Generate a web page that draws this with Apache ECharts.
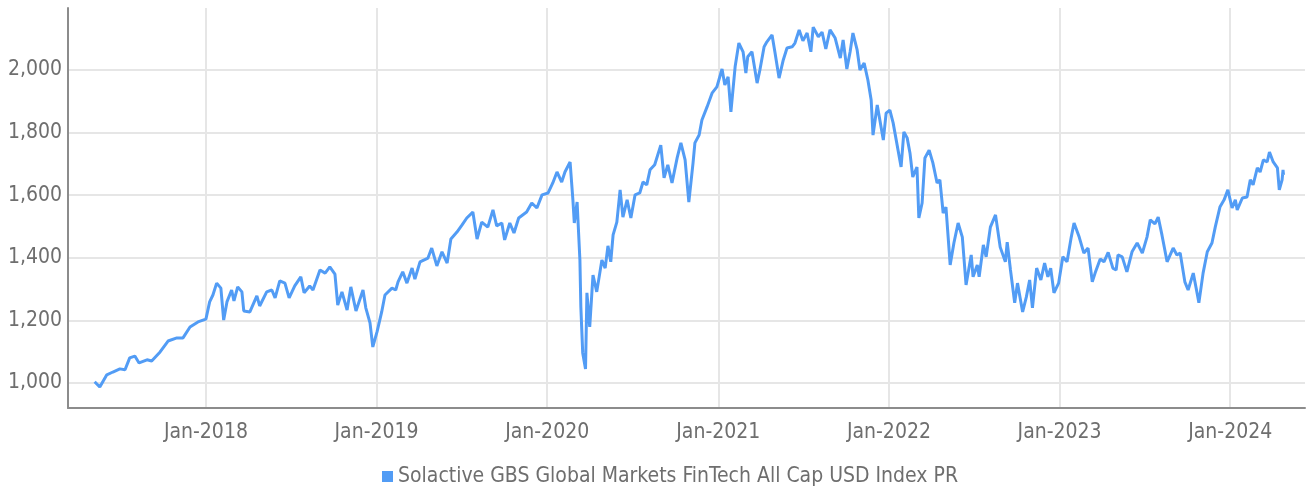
<!DOCTYPE html>
<html>
<head>
<meta charset="utf-8">
<script src="https://cdn.jsdelivr.net/npm/echarts@6/dist/echarts.min.js"></script>
<style>
html,body{margin:0;padding:0;background:#fff;}
#chart{width:1306px;height:490px;}
</style>
</head>
<body>
<div id="chart"></div>
<script>
const seriesName = 'Solactive GBS Global Markets FinTech All Cap USD Index PR';
const xTicks = ['2018-01-01','2019-01-01','2020-01-01','2021-01-01','2022-01-01','2023-01-01','2024-01-01'];
const monthNames = ['Jan','Feb','Mar','Apr','May','Jun','Jul','Aug','Sep','Oct','Nov','Dec'];
const dates = [
'2017-05-08','2017-05-19','2017-06-03','2017-06-16','2017-07-01','2017-07-12','2017-07-22','2017-08-02','2017-08-11','2017-08-28',
'2017-09-07','2017-09-25','2017-10-12','2017-10-31','2017-11-13','2017-11-28','2017-12-15',
'2018-01-01','2018-01-09','2018-01-16','2018-01-24','2018-02-02','2018-02-08','2018-02-15','2018-02-25','2018-03-02','2018-03-10',
'2018-03-19','2018-03-23','2018-04-05','2018-04-20','2018-04-26','2018-05-11','2018-05-22','2018-05-29','2018-06-08','2018-06-19',
'2018-06-28','2018-07-10','2018-07-23','2018-07-30','2018-08-11','2018-08-18','2018-09-02','2018-09-13','2018-09-23','2018-10-04',
'2018-10-10','2018-10-19','2018-10-30','2018-11-07','2018-11-18','2018-12-03','2018-12-09','2018-12-18','2018-12-24',
'2019-01-02','2019-01-12','2019-01-19','2019-02-03','2019-02-11','2019-02-16','2019-02-26','2019-03-07','2019-03-18','2019-03-24',
'2019-04-04','2019-04-21','2019-04-29','2019-05-10','2019-05-21','2019-06-01','2019-06-09','2019-06-22','2019-07-03','2019-07-13',
'2019-07-26','2019-08-04','2019-08-14','2019-08-27','2019-09-07','2019-09-15','2019-09-26','2019-10-02','2019-10-13','2019-10-22',
'2019-11-01','2019-11-18','2019-11-29','2019-12-10','2019-12-21',
'2020-01-03','2020-01-13','2020-01-22','2020-02-01','2020-02-08','2020-02-19','2020-02-25','2020-02-28','2020-03-05','2020-03-11',
'2020-03-13','2020-03-17','2020-03-23','2020-03-26','2020-04-01','2020-04-08','2020-04-16','2020-04-27','2020-05-04','2020-05-10',
'2020-05-16','2020-05-21','2020-05-29','2020-06-05','2020-06-11','2020-06-20','2020-06-28','2020-07-07','2020-07-17','2020-07-24',
'2020-08-01','2020-08-08','2020-08-18','2020-08-31','2020-09-07','2020-09-15','2020-09-24','2020-10-05','2020-10-13','2020-10-22',
'2020-10-30','2020-11-08','2020-11-12','2020-11-21','2020-11-27','2020-12-08','2020-12-19','2020-12-29',
'2021-01-09','2021-01-15','2021-01-22','2021-01-28','2021-02-06','2021-02-14','2021-02-23','2021-03-01','2021-03-05','2021-03-14',
'2021-03-25','2021-03-31','2021-04-09','2021-04-15','2021-04-26','2021-05-02','2021-05-11','2021-05-20','2021-05-28','2021-06-08',
'2021-06-14','2021-06-23','2021-07-01','2021-07-10','2021-07-18','2021-07-23','2021-08-03','2021-08-11','2021-08-19','2021-08-28',
'2021-09-08','2021-09-19','2021-09-25','2021-10-03','2021-10-10','2021-10-16','2021-10-25','2021-10-31','2021-11-09','2021-11-17',
'2021-11-24','2021-11-28','2021-12-07','2021-12-20','2021-12-26',
'2022-01-03','2022-01-10','2022-01-27','2022-02-02','2022-02-09','2022-02-15','2022-02-21','2022-03-02','2022-03-06','2022-03-13',
'2022-03-19','2022-03-28','2022-04-05','2022-04-14','2022-04-20','2022-04-27','2022-05-03','2022-05-12','2022-05-20','2022-05-29',
'2022-06-07','2022-06-15','2022-06-26','2022-06-30','2022-07-09','2022-07-13','2022-07-22','2022-07-28','2022-08-06','2022-08-17',
'2022-08-27','2022-09-07','2022-09-11','2022-09-18','2022-09-27','2022-10-03','2022-10-14','2022-10-22','2022-10-29','2022-11-04',
'2022-11-13','2022-11-22','2022-11-30','2022-12-07','2022-12-13','2022-12-20','2022-12-30',
'2023-01-08','2023-01-17','2023-01-26','2023-02-01','2023-02-12','2023-02-22','2023-03-03','2023-03-12','2023-03-18','2023-03-29',
'2023-04-06','2023-04-15','2023-04-25','2023-05-02','2023-05-06','2023-05-15','2023-05-25','2023-06-05','2023-06-16','2023-06-27',
'2023-07-07','2023-07-14','2023-07-24','2023-07-31','2023-08-08','2023-08-19','2023-09-01','2023-09-09','2023-09-16','2023-09-26',
'2023-10-03','2023-10-14','2023-10-20','2023-10-26','2023-11-04','2023-11-13','2023-11-23','2023-11-30','2023-12-10','2023-12-19',
'2023-12-27',
'2024-01-05','2024-01-12','2024-01-16','2024-01-27','2024-02-06','2024-02-13','2024-02-19','2024-02-28','2024-03-05','2024-03-12',
'2024-03-20','2024-03-25','2024-04-02','2024-04-11','2024-04-15','2024-04-21','2024-04-23','2024-04-24'
];
const values = [
1004,987,1026,1035,1045,1042,1080,1086,1064,1074,
1070,1099,1134,1144,1144,1179,1195,
1204,1259,1281,1319,1303,1201,1259,1297,1262,1307,
1291,1230,1227,1278,1246,1291,1297,1272,1326,1319,
1272,1310,1339,1288,1310,1297,1361,1351,1371,1348,
1249,1291,1233,1307,1230,1297,1240,1192,1115,
1163,1227,1281,1303,1297,1323,1355,1319,1367,1332,
1387,1399,1431,1374,1419,1383,1460,1482,1505,1527,
1546,1460,1514,1498,1553,1502,1511,1457,1511,1479,
1527,1546,1575,1559,1601,
1607,1639,1674,1642,1674,1706,1585,1511,1578,1393,
1243,1096,1045,1288,1179,1345,1291,1393,1367,1438,
1387,1473,1514,1617,1530,1585,1527,1601,1607,1642,
1633,1681,1697,1760,1655,1697,1639,1719,1767,1713,
1578,1703,1767,1792,1840,1882,1927,1946,
2003,1952,1978,1866,2010,2086,2058,1990,2042,2058,
1958,2000,2074,2090,2112,2058,1974,2032,2070,2074,
2086,2128,2093,2118,2058,2137,2106,2121,2067,2128,
2102,2038,2096,2003,2058,2118,2064,2000,2022,1968,
1904,1792,1888,1776,1862,
1872,1831,1690,1802,1783,1735,1658,1690,1527,1575,
1719,1744,1703,1639,1649,1543,1562,1377,1447,1511,
1466,1313,1409,1339,1377,1339,1441,1403,1498,1537,
1434,1387,1450,1361,1256,1319,1227,1275,1329,1240,
1367,1329,1383,1339,1367,1288,1319,
1403,1387,1466,1511,1466,1415,1431,1323,1351,1396,
1387,1417,1367,1361,1409,1403,1355,1419,1447,1415,
1466,1521,1508,1530,1473,1387,1431,1409,1415,1323,
1297,1351,1304,1256,1351,1419,1447,1498,1562,1585,
1617,
1559,1585,1553,1591,1594,1649,1633,1687,1674,1713,
1706,1738,1706,1687,1617,1649,1681,1665
];

const FONT = "'Liberation Sans Narrow', 'DejaVu Sans Condensed', Roboto, sans-serif";
const chart = echarts.init(document.getElementById('chart'), null, {renderer: 'canvas'});
const seriesData = dates.map((d, i) => [Date.parse(d), values[i]]);
const xTickValues = xTicks.map(d => Date.parse(d));

chart.setOption({
  animation: false,
  grid: {left: 68, right: 1, top: 8, bottom: 82, containLabel: false},
  legend: {
    data: [seriesName],
    left: 382,
    top: 466,
    padding: 0,
    icon: 'rect',
    itemWidth: 11,
    itemHeight: 11,
    itemGap: 5,
    textStyle: {fontFamily: FONT, fontSize: 21, color: '#6e6e6e'}
  },
  xAxis: {
    type: 'value',
    min: Date.parse('2017-03-12'),
    max: Date.parse('2024-06-09'),
    axisLine: {show: true, lineStyle: {color: '#8c8c8c', width: 2}},
    axisTick: {show: false, customValues: xTickValues},
    axisLabel: {
      customValues: xTickValues,
      margin: 14,
      fontFamily: FONT,
      fontSize: 21,
      color: '#6e6e6e',
      formatter: function (v) {
        const d = new Date(v);
        return monthNames[d.getUTCMonth()] + '-' + d.getUTCFullYear();
      }
    },
    splitLine: {show: true, lineStyle: {color: '#e6e6e6', width: 2}}
  },
  yAxis: {
    type: 'value',
    min: 920,
    max: 2198,
    splitNumber: 6,
    axisLine: {show: true, lineStyle: {color: '#8c8c8c', width: 2}},
    axisTick: {show: false},
    axisLabel: {
      showMinLabel: false,
      showMaxLabel: false,
      margin: 6,
      fontFamily: FONT,
      fontSize: 21,
      color: '#6e6e6e',
      formatter: function (v) { return v.toLocaleString('en-US'); }
    },
    splitLine: {show: true, showMinLine: false, showMaxLine: false, lineStyle: {color: '#e6e6e6', width: 2}}
  },
  series: [{
    name: seriesName,
    type: 'line',
    data: seriesData,
    showSymbol: false,
    symbol: 'none',
    itemStyle: {color: '#529cf5'},
    lineStyle: {color: '#529cf5', width: 3}
  }]
});
</script>
</body>
</html>
